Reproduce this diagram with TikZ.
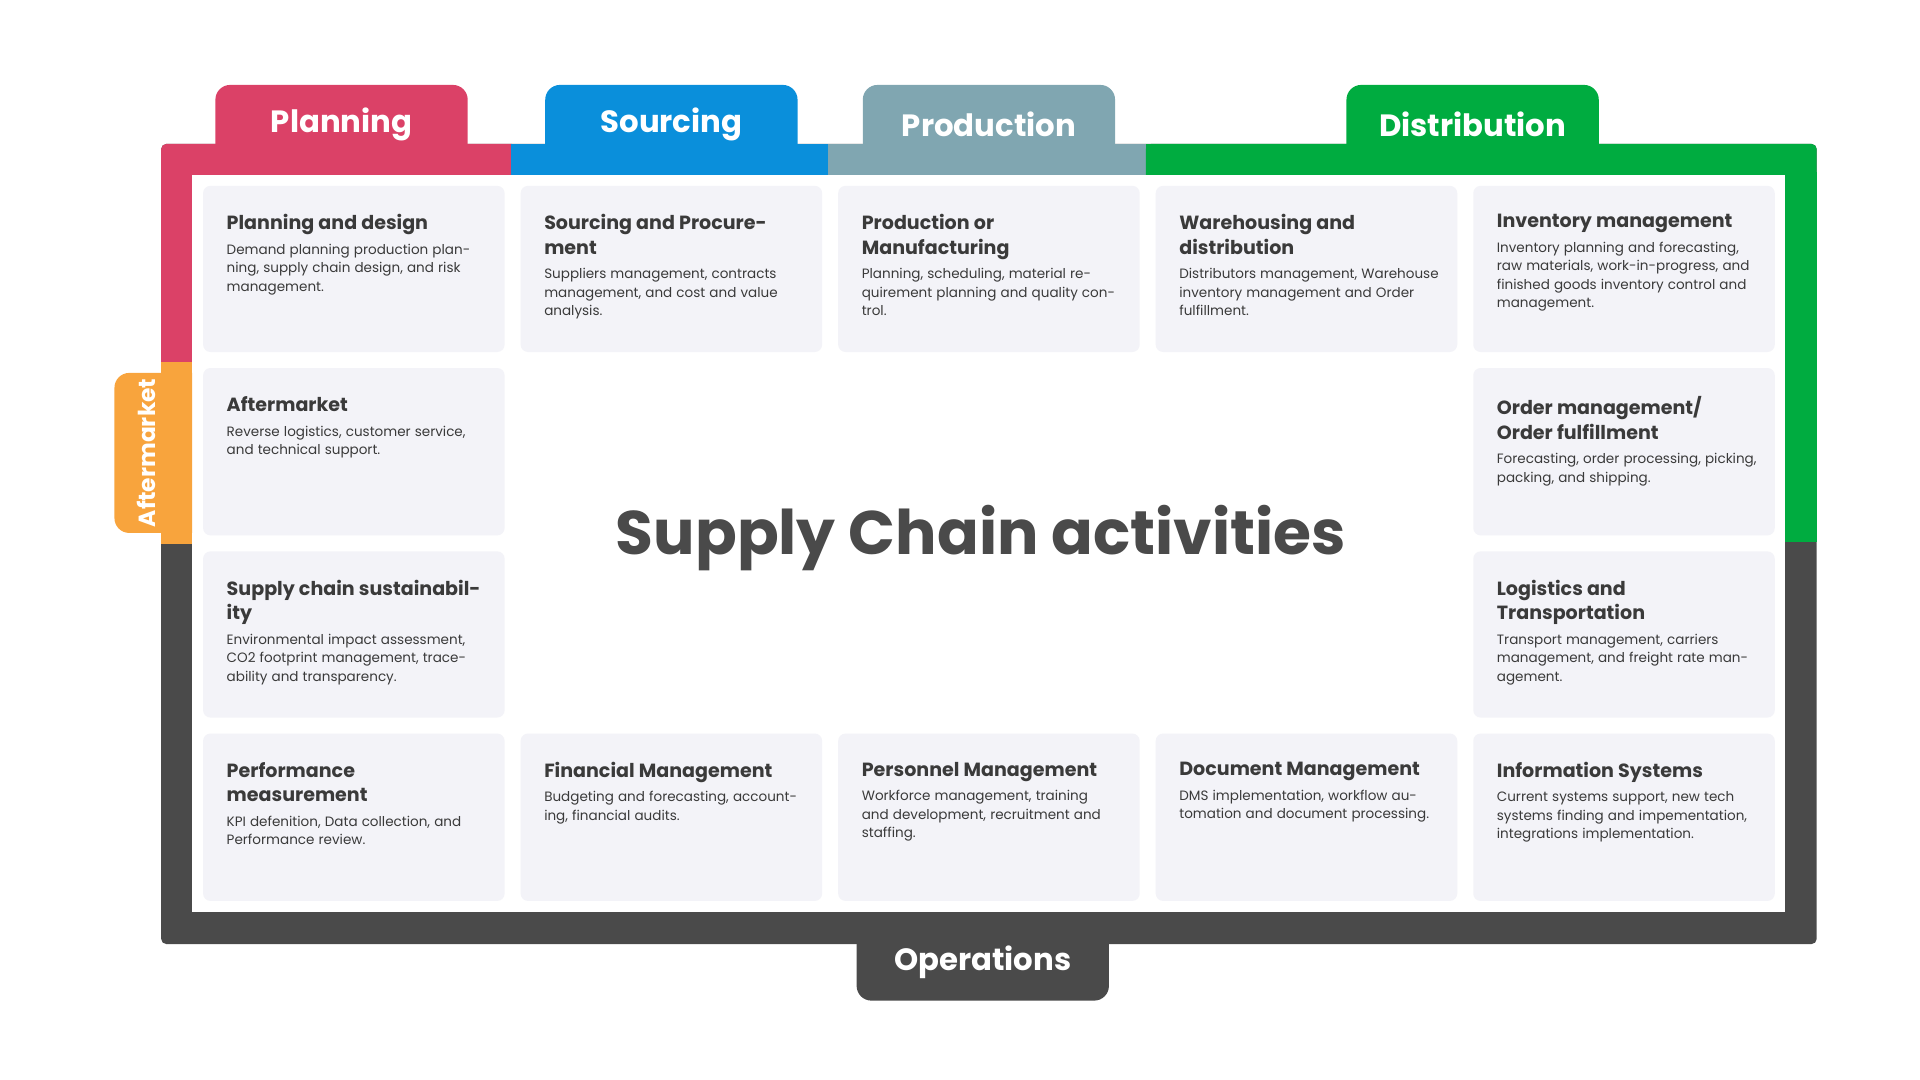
\documentclass[tikz,border=0pt]{standalone}
\usepackage{fontspec}
\setmainfont{Poppins}
\usetikzlibrary{positioning}
\definecolor{planred}{HTML}{DB4167}
\definecolor{srcblue}{HTML}{0A8FDB}
\definecolor{prodgrey}{HTML}{80A6B1}
\definecolor{distgreen}{HTML}{00AC40}
\definecolor{aftorange}{HTML}{F8A43D}
\definecolor{opsdark}{HTML}{4A4A4A}
\definecolor{cardfill}{HTML}{F3F3F8}
\definecolor{inktext}{HTML}{3A3A3A}

\newcommand{\cardtext}[2]{{\fontsize{15.5}{20}\selectfont\bfseries #1\par}\vspace{5pt}{\fontsize{11}{15}\selectfont #2\par}}

\begin{document}
\begin{tikzpicture}[x=1pt,y=-1pt]
  % Styles
  \tikzset{
    card/.style={fill=cardfill, rounded corners=6pt},
    cardlabel/.style={anchor=north west, inner sep=0pt, text width=212pt, align=left, text=inktext},
    tablabel/.style={text=white, font=\fontsize{25}{30}\selectfont\bfseries},
  }
  \useasboundingbox (0,0) rectangle (1560,877.5);

  % Frame
  \fill[opsdark, rounded corners=4pt] (131,117) rectangle (1476,767);
  \fill[planred, rounded corners=4pt] (131,117) rectangle (420,142);
  \fill[planred] (131,130) rectangle (156,294);
  \fill[planred] (160,117) rectangle (415,142);
  \fill[srcblue] (415,117) rectangle (673,142);
  \fill[prodgrey] (673,117) rectangle (931,142);
  \fill[distgreen, rounded corners=4pt] (931,117) rectangle (1476,160);
  \fill[distgreen] (931,117) rectangle (1450,142);
  \fill[distgreen] (1450,140) rectangle (1476,440);
  \fill[aftorange] (131,294) rectangle (156,442);
  \fill[white] (156,142) rectangle (1450,741);

  % Tabs
  \fill[planred] (175,142) [rounded corners=12pt] -- (175,69) -- (380,69) [sharp corners] -- (380,142) -- cycle;
  \fill[srcblue] (443,142) [rounded corners=12pt] -- (443,69) -- (648,69) [sharp corners] -- (648,142) -- cycle;
  \fill[prodgrey] (701,142) [rounded corners=12pt] -- (701,69) -- (906,69) [sharp corners] -- (906,142) -- cycle;
  \fill[distgreen] (1094,142) [rounded corners=12pt] -- (1094,69) -- (1299,69) [sharp corners] -- (1299,142) -- cycle;
  \fill[opsdark] (696,741) [rounded corners=12pt] -- (696,813) -- (901,813) [sharp corners] -- (901,741) -- cycle;
  \fill[aftorange] (156,303) [rounded corners=12pt] -- (93,303) -- (93,433) [sharp corners] -- (156,433) -- cycle;

  \node[tablabel] (planning) at (277.5,101) {Planning};
  \node[tablabel] (sourcing) at (545.5,101) {Sourcing};
  \node[tablabel] (production) at (803.5,101) {Production};
  \node[tablabel] (distribution) at (1196.5,101) {Distribution};
  \node[tablabel] (operations) at (798.5,782) {Operations};
  \node[text=white, rotate=90, font=\fontsize{19}{22}\selectfont\bfseries] (aftertab) at (119,368) {Aftermarket};

  % Cards, top row
  \fill[card] (165,151) rectangle (410,286);
  \fill[card] (423,151) rectangle (668,286);
  \fill[card] (681,151) rectangle (926,286);
  \fill[card] (939,151) rectangle (1184,286);
  \fill[card] (1197,151) rectangle (1442,286);
  % side columns
  \fill[card] (165,299) rectangle (410,435);
  \fill[card] (1197,299) rectangle (1442,435);
  \fill[card] (165,448) rectangle (410,583);
  \fill[card] (1197,448) rectangle (1442,583);
  % bottom row
  \fill[card] (165,596) rectangle (410,732);
  \fill[card] (423,596) rectangle (668,732);
  \fill[card] (681,596) rectangle (926,732);
  \fill[card] (939,596) rectangle (1184,732);
  \fill[card] (1197,596) rectangle (1442,732);

  \node[cardlabel] (plandesign) at (184,174) {\cardtext{Planning and design}{Demand planning production planning, supply chain design, and risk management.}};
  \node[cardlabel] (procure) at (442,174) {\cardtext{Sourcing and Procurement}{Suppliers management, contracts management, and cost and value analysis.}};
  \node[cardlabel] (manufact) at (700,174) {\cardtext{Production or\\Manufacturing}{Planning, scheduling, material requirement planning and quality control.}};
  \node[cardlabel] (warehouse) at (958,174) {\cardtext{Warehousing and\\distribution}{Distributors management, Warehouse inventory management and Order fulfillment.}};
  \node[cardlabel] (inventory) at (1216,174) {\cardtext{Inventory management}{Inventory planning and forecasting, raw materials, work-in-progress, and finished goods inventory control and management.}};

  \node[cardlabel] (aftermarket) at (184,322) {\cardtext{Aftermarket}{Reverse logistics, customer service, and technical support.}};
  \node[cardlabel] (ordermgmt) at (1216,322) {\cardtext{Order management/\\Order fulfillment}{Forecasting, order processing, picking, packing, and shipping.}};
  \node[cardlabel] (sustain) at (184,471) {\cardtext{Supply chain sustainability}{Environmental impact assessment, CO2 footprint management, traceability and transparency.}};
  \node[cardlabel] (logistics) at (1216,471) {\cardtext{Logistics and\\Transportation}{Transport management, carriers management, and freight rate management.}};

  \node[cardlabel] (perform) at (184,619) {\cardtext{Performance\\measurement}{KPI defenition, Data collection, and Performance review.}};
  \node[cardlabel] (finance) at (442,619) {\cardtext{Financial Management}{Budgeting and forecasting, accounting, financial audits.}};
  \node[cardlabel] (personnel) at (700,619) {\cardtext{Personnel Management}{Workforce management, training and development, recruitment and staffing.}};
  \node[cardlabel] (document) at (958,619) {\cardtext{Document Management}{DMS implementation, workflow automation and document processing.}};
  \node[cardlabel] (infosys) at (1216,619) {\cardtext{Information Systems}{Current systems support, new tech systems finding and impementation, integrations implementation.}};

  % Centre title
  \node[text=opsdark, font=\fontsize{50}{56}\selectfont\bfseries] (title) at (797,437) {Supply Chain activities};
\end{tikzpicture}
\end{document}
